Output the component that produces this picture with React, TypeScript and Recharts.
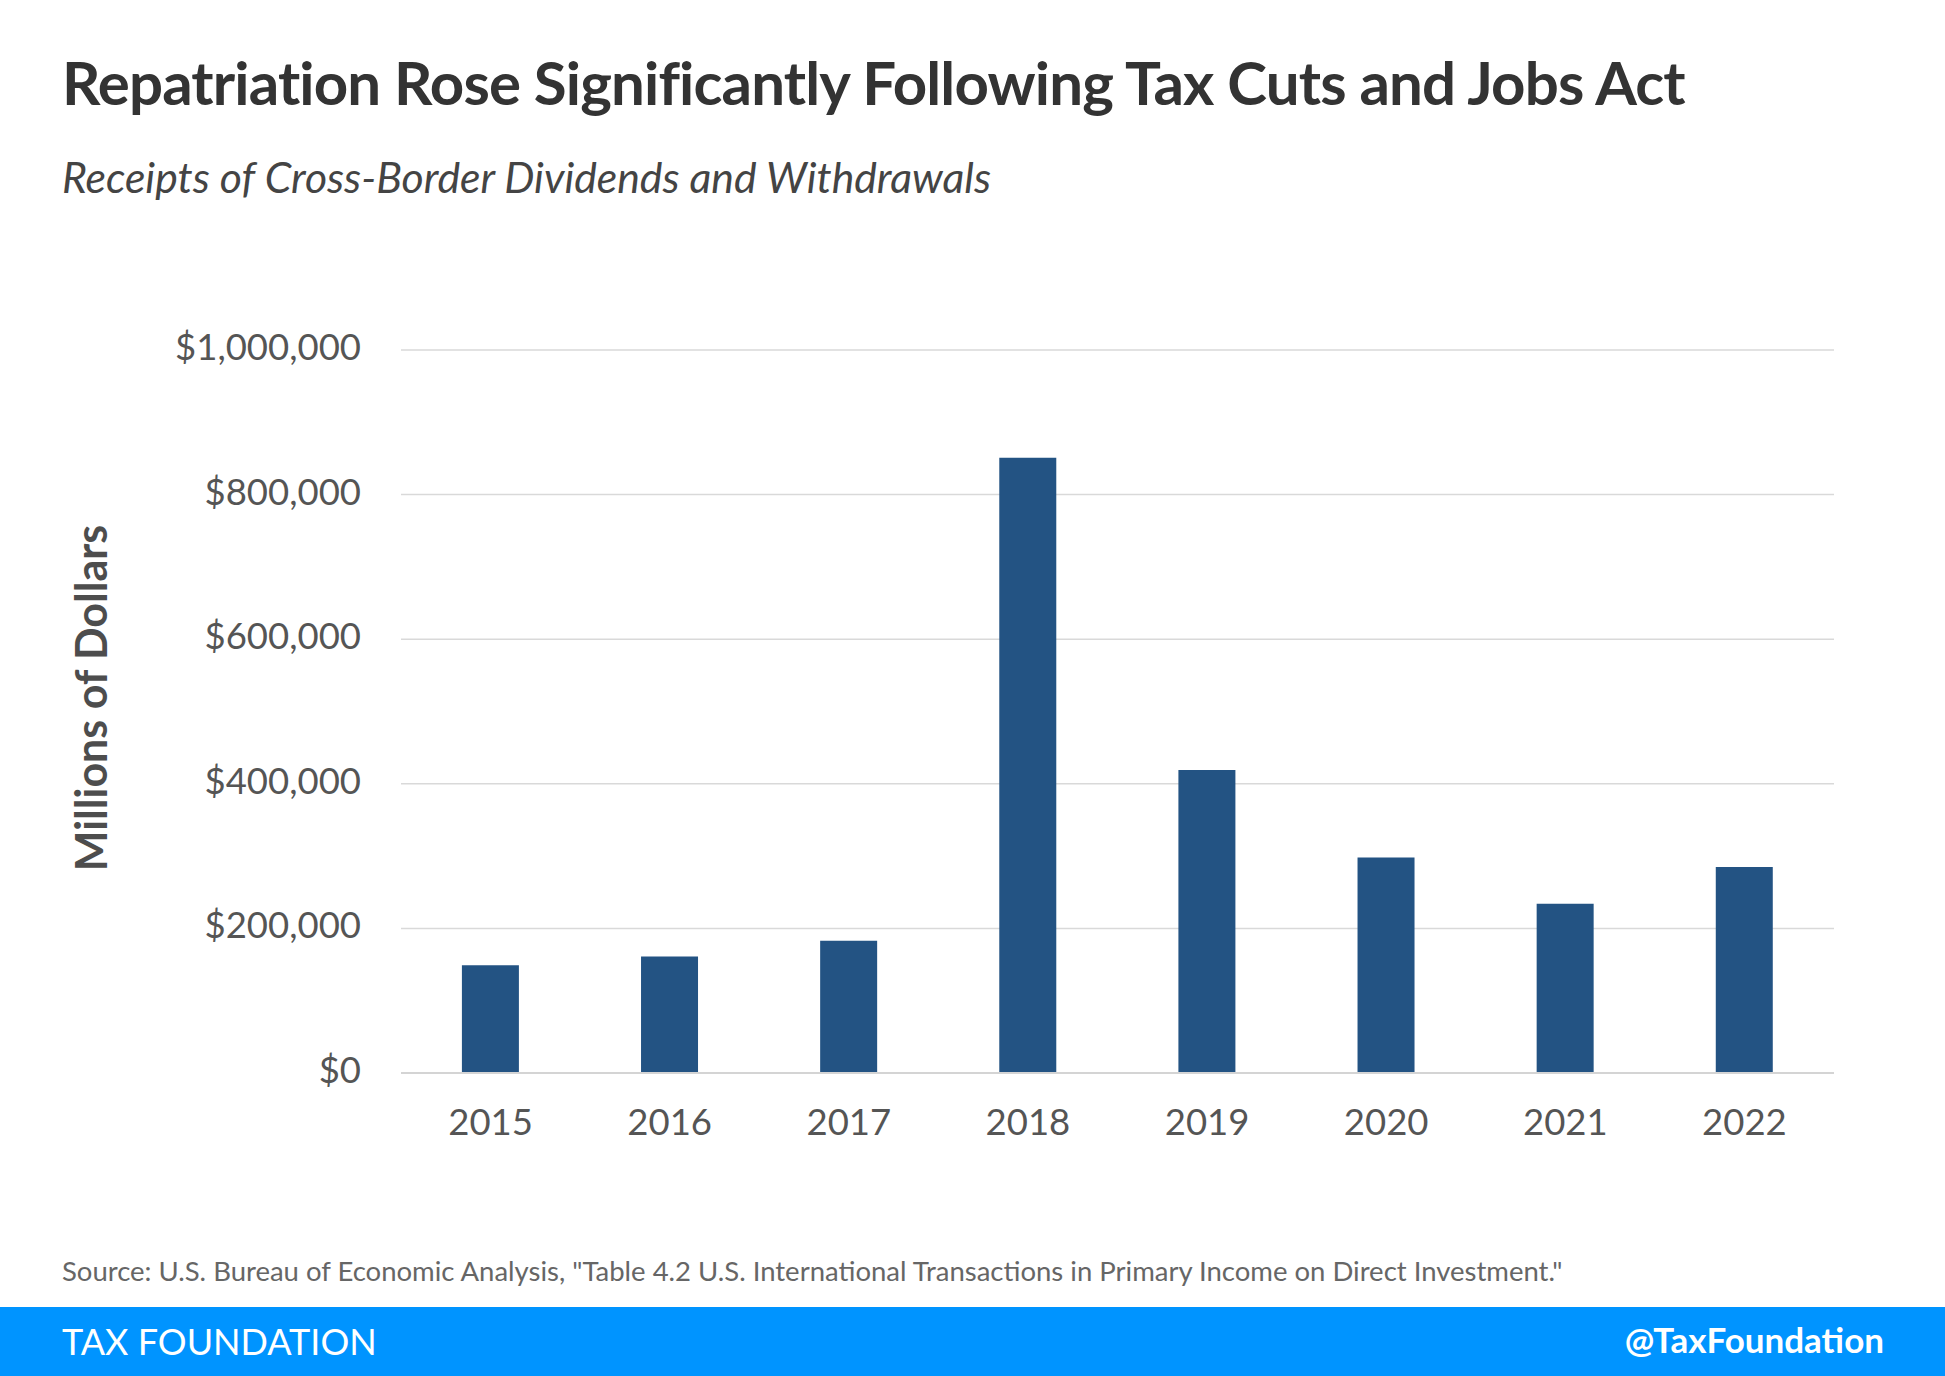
import React from 'react';
import { BarChart, Bar, XAxis, YAxis, CartesianGrid } from 'recharts';

const years = ['2015', '2016', '2017', '2018', '2019', '2020', '2021', '2022'];
const receipts = [149000, 161000, 183000, 851000, 419000, 298000, 234000, 285000];
const yTicks = [0, 200000, 400000, 600000, 800000, 1000000];

const data = years.map((year, i) => ({ year, value: receipts[i] }));

const BAR_COLOR = '#235383';
const FONT = 'Lato, "Open Sans", sans-serif';

const fmt = (v: number) => `$${v.toLocaleString('en-US')}`;

export default function App() {
    return (
        <div style={{ position: 'absolute', left: 0, top: 0, width: 1945, height: 1376, background: '#fff', fontFamily: FONT, overflow: 'hidden' }}>
            <div style={{ position: 'absolute', left: 62, top: 52, fontSize: 60, fontWeight: 700, color: '#333', letterSpacing: -0.85, whiteSpace: 'nowrap', lineHeight: 1 }}>
                Repatriation Rose Significantly Following Tax Cuts and Jobs Act
            </div>
            <div style={{ position: 'absolute', left: 62, top: 156, fontSize: 42.7, fontStyle: 'italic', color: '#444', whiteSpace: 'nowrap', lineHeight: 1 }}>
                Receipts of Cross-Border Dividends and Withdrawals
            </div>

            <div style={{ position: 'absolute', left: 90, top: 698, width: 0, height: 0 }}>
                <div style={{ position: 'absolute', transform: 'translate(-50%, -50%) rotate(-90deg)', fontSize: 43, fontWeight: 700, color: '#4d4d4d', whiteSpace: 'nowrap', lineHeight: 1 }}>
                    Millions of Dollars
                </div>
            </div>

            <div style={{ position: 'absolute', left: 0, top: 0 }}>
                <BarChart width={1945} height={1376} data={data}
                    margin={{ top: 350, right: 111, bottom: 243, left: 0 }}
                    barCategoryGap="34%">
                    <CartesianGrid vertical={false} stroke="#d9d9d9" strokeWidth={1.5} />
                    <XAxis dataKey="year" height={60} tickLine={false} tickSize={0} tickMargin={36}
                        axisLine={{ stroke: '#d4d4d4', strokeWidth: 2 }}
                        tick={{ fill: '#555', fontSize: 36.5, fontFamily: FONT }} />
                    <YAxis width={401} domain={[0, 1000000]} ticks={yTicks} tickFormatter={fmt}
                        axisLine={false} tickLine={false} tickSize={0} tickMargin={40}
                        tick={{ fill: '#555', fontSize: 36.5, fontFamily: FONT, dy: -3 }} />
                    <Bar dataKey="value" fill={BAR_COLOR} isAnimationActive={false} />
                </BarChart>
            </div>

            <div style={{ position: 'absolute', left: 62, top: 1257, fontSize: 27.5, color: '#666', whiteSpace: 'nowrap', lineHeight: 1 }}>
                Source: U.S. Bureau of Economic Analysis, "Table 4.2 U.S. International Transactions in Primary Income on Direct Investment."
            </div>

            <div style={{ position: 'absolute', left: 0, top: 1307, width: 1945, height: 69, background: '#0094ff' }}>
                <div style={{ position: 'absolute', left: 62, top: 16, fontSize: 36, color: '#fff', lineHeight: 1, whiteSpace: 'nowrap' }}>
                    TAX FOUNDATION
                </div>
                <div style={{ position: 'absolute', right: 61, top: 15, fontSize: 35, fontWeight: 700, color: '#fff', lineHeight: 1, whiteSpace: 'nowrap' }}>
                    @TaxFoundation
                </div>
            </div>
        </div>
    );
}
